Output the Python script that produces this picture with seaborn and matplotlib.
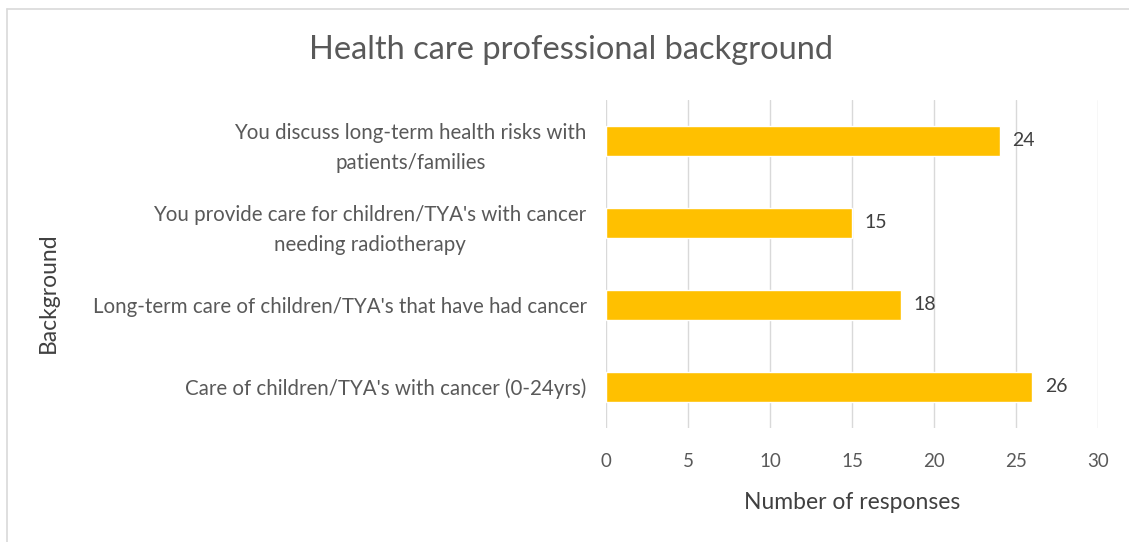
import matplotlib
matplotlib.use("Agg")
import matplotlib.pyplot as plt
import seaborn as sns
import pandas as pd
from matplotlib.lines import Line2D

categories = [
    "You discuss long-term health risks with\npatients/families",
    "You provide care for children/TYA's with cancer\nneeding radiotherapy",
    "Long-term care of children/TYA's that have had cancer",
    "Care of children/TYA's with cancer (0-24yrs)",
]
responses = [24, 15, 18, 26]
x_ticks = [0, 5, 10, 15, 20, 25, 30]

title = "Health care professional background"
x_label = "Number of responses"
y_label = "Background"

df = pd.DataFrame({"category": categories, "responses": responses})

sns.set_theme(style="white")
plt.rcParams["font.family"] = ["Lato", "DejaVu Sans"]
text_color = "#595959"

fig = plt.figure(figsize=(11.29, 5.42), dpi=100)
ax = fig.add_axes([606 / 1129, 1 - 428 / 542, (1098 - 606) / 1129, 328 / 542])

sns.barplot(data=df, y="category", x="responses", orient="h", color="#FFC000",
            saturation=1, width=0.37, ax=ax)

ax.set_xlim(0, 30)
ax.set_ylim(3.5, -0.5)
ax.set_xticks(x_ticks)
ax.set_xticklabels([str(t) for t in x_ticks], color=text_color, fontsize=13.5)
ax.tick_params(axis="x", length=0, pad=18)
ax.tick_params(axis="y", length=0, pad=14)
for lbl in ax.get_yticklabels():
    lbl.set_color(text_color)
    lbl.set_fontsize(14.8)
    lbl.set_multialignment("center")
    lbl.set_linespacing(1.65)
ax.grid(axis="x", color="#D9D9D9", linewidth=1)
ax.set_axisbelow(True)
for s in ax.spines.values():
    s.set_visible(False)

for i, v in enumerate(responses):
    ax.text(v + 0.75, i, str(v), va="center", ha="left", color="#404040", fontsize=14)

ax.set_xlabel(x_label, color="#404040", fontsize=16.5, labelpad=16)
ax.set_ylabel("")
fig.text(48 / 1129, 1 - 293 / 542, y_label, rotation=90, va="center", ha="center",
         color="#404040", fontsize=16.5)

fig.text(571 / 1129, 1 - 50 / 542, title, ha="center", va="center",
         color=text_color, fontsize=23.5)

# light frame lines (top and left)
fig.add_artist(Line2D([7 / 1129, 1], [1 - 9 / 542, 1 - 9 / 542], color="#D9D9D9", lw=1.2))
fig.add_artist(Line2D([7 / 1129, 7 / 1129], [0, 1 - 9 / 542], color="#D9D9D9", lw=1.2))

fig.savefig("out.png", dpi=100)
